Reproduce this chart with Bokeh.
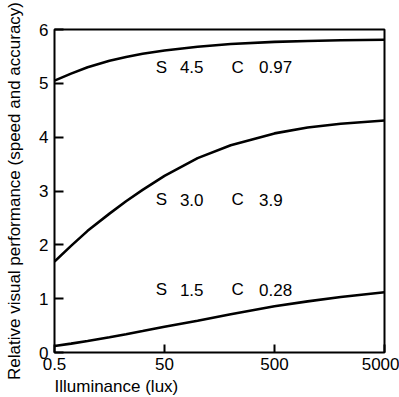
import numpy as np
from bokeh.plotting import figure
from bokeh.models import Range1d, FixedTicker, Title, ColumnDataSource
from bokeh.core.properties import value
from bokeh.embed import file_html
from bokeh.resources import INLINE

# ---- data ----
tick_lux = [0.5, 50, 500, 5000]
tick_labels = ["0.5", "50", "500", "5000"]
lux = [0.5, 1, 2, 5, 10, 20, 50, 100, 200, 500, 1000, 2000, 5000]
perf_s45 = [5.05, 5.18, 5.30, 5.42, 5.49, 5.55, 5.61, 5.68, 5.73, 5.77, 5.785, 5.80, 5.81]
perf_s30 = [1.69, 1.98, 2.26, 2.58, 2.81, 3.02, 3.28, 3.61, 3.85, 4.07, 4.18, 4.25, 4.31]
perf_s15 = [0.12, 0.165, 0.215, 0.285, 0.34, 0.40, 0.48, 0.59, 0.71, 0.86, 0.95, 1.03, 1.12]
s_labels = ["4.5", "3.0", "1.5"]
c_labels = ["0.97", "3.9", "0.28"]
y_ticks = [0, 1, 2, 3, 4, 5, 6]
x_title = "Illuminance (lux)"
y_title = "Relative visual performance (speed and accuracy)"

FONT = "Liberation Sans"
FS = "17px"

# axis of the original: tick marks equally spaced (piecewise-log)
tick_pos = list(range(len(tick_lux)))
def xpos(v):
    return np.interp(np.log10(v), np.log10(tick_lux), tick_pos)

p = figure(width=399, height=397, output_backend="svg", toolbar_location=None,
           x_range=Range1d(0, 3), y_range=Range1d(0, 6),
           min_border_left=54, min_border_right=15, min_border_top=29, min_border_bottom=44)
p.background_fill_color = "white"
p.border_fill_color = "white"
p.grid.visible = False
p.outline_line_color = "black"
p.outline_line_width = 2

for ys in (perf_s45, perf_s30, perf_s15):
    p.line(xpos(lux), ys, line_color="black", line_width=2.6)

# annotations S / C
lab_y = [5.30, 2.84, 1.17]
src = ColumnDataSource(dict(y=lab_y, s=["S"] * 3, sv=s_labels, c=["C"] * 3, cv=c_labels))
for xx, col in ((0.92, "s"), (1.14, "sv"), (1.61, "c"), (1.86, "cv")):
    p.text(x=xx, y="y", text=col, source=src, text_font=value(FONT), text_font_size=FS,
           text_align="left", text_baseline="middle", text_color="black")

# axes
xa = p.xaxis[0]
xa.ticker = FixedTicker(ticks=tick_pos)
xa.major_label_overrides = {t: l for t, l in zip(tick_pos, tick_labels)}
xa.minor_tick_line_color = None
xa.axis_line_color = None
xa.major_tick_in = 8
xa.major_tick_out = 0
xa.major_tick_line_width = 2
xa.major_label_standoff = 5
xa.major_label_text_font = FONT
xa.major_label_text_font_size = FS
xa.major_label_text_color = "black"

ya = p.yaxis[0]
ya.ticker = FixedTicker(ticks=y_ticks)
ya.minor_tick_line_color = None
ya.axis_line_color = None
ya.major_tick_in = 9
ya.major_tick_out = 0
ya.major_tick_line_width = 2
ya.major_label_standoff = 6
ya.major_label_text_font = FONT
ya.major_label_text_font_size = FS
ya.major_label_text_color = "black"
ya.axis_label = y_title
ya.axis_label_text_font = FONT
ya.axis_label_text_font_size = FS
ya.axis_label_text_font_style = "normal"
ya.axis_label_text_color = "black"
ya.axis_label_standoff = 12

p.add_layout(Title(text=x_title, align="left", text_font=FONT,
                   text_font_size=FS, text_font_style="normal", text_color="black",
                   standoff=4), "below")

open("out.html", "w").write(file_html(p, INLINE))
